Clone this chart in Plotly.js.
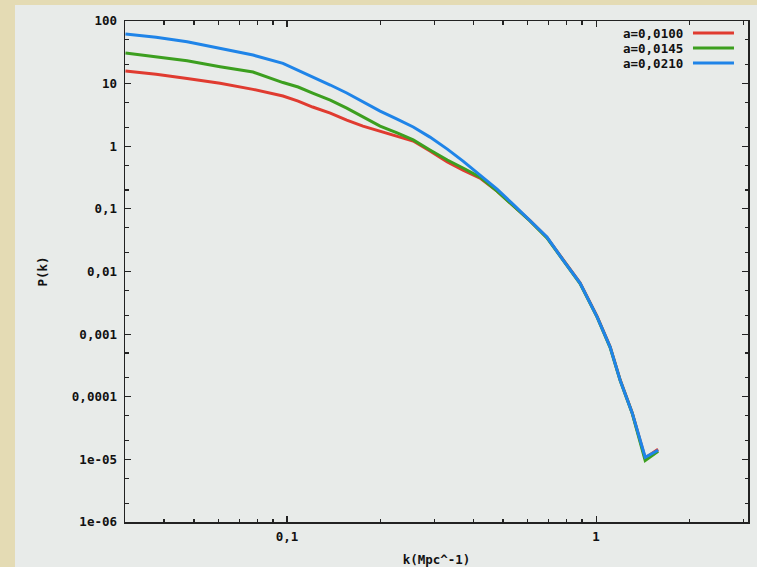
<!DOCTYPE html>
<html>
<head>
<meta charset="utf-8">
<script src="https://cdn.plot.ly/plotly-3.0.1.min.js"></script>
<style>
html,body{margin:0;padding:0;background:#e4dbb4;}
#chart{width:757px;height:567px;}
</style>
</head>
<body>
<div id="chart"></div>
<script>
// wavenumber k (Mpc^-1)
const kValues = [0.030, 0.0377, 0.0475, 0.0607, 0.0776, 0.097, 0.1086, 0.121, 0.138, 0.156, 0.176, 0.200, 0.227, 0.256, 0.290, 0.330, 0.371, 0.421, 0.478, 0.538, 0.611, 0.693, 0.782, 0.887, 1.008, 1.11, 1.196, 1.309, 1.441, 1.587];

// P(k) for each scale factor
const pA0100 = [15.9, 14.1, 12.1, 10.1, 8.1, 6.34, 5.27, 4.23, 3.39, 2.62, 2.10, 1.75, 1.46, 1.21, 0.838, 0.56, 0.417, 0.31, 0.192, 0.115, 0.065, 0.0350, 0.0155, 0.0066, 0.00190, 6.3e-4, 1.86e-4, 5.5e-5, 1.05e-5, 1.45e-5];
const pA0145 = [30.8, 26.6, 23.2, 18.6, 15.3, 10.4, 8.83, 7.08, 5.47, 4.07, 2.93, 2.10, 1.63, 1.26, 0.87, 0.602, 0.449, 0.322, 0.192, 0.115, 0.064, 0.0345, 0.0150, 0.0064, 0.00185, 6.1e-4, 1.82e-4, 5.4e-5, 9.6e-6, 1.35e-5];
const pA0210 = [62.0, 54.9, 46.7, 36.6, 28.6, 21.1, 16.5, 12.7, 9.5, 7.08, 5.08, 3.65, 2.72, 2.03, 1.40, 0.90, 0.580, 0.347, 0.207, 0.119, 0.066, 0.0355, 0.0152, 0.00653, 0.00187, 6.2e-4, 1.84e-4, 5.47e-5, 1.08e-5, 1.40e-5];

const seriesNames = ['a=0,0100', 'a=0,0145', 'a=0,0210'];
const seriesColors = ['#e03b30', '#3c9f1f', '#1f84e8'];
const seriesData = [pA0100, pA0145, pA0210];

// tick labels
const xTickVals = [0.1, 1];
const xTickText = ['0,1', '1'];
const xMinorVals = [0.03,0.04,0.05,0.06,0.07,0.08,0.09,0.2,0.3,0.4,0.5,0.6,0.7,0.8,0.9,2,3];
const yTickVals = [1e-6, 1e-5, 1e-4, 1e-3, 1e-2, 0.1, 1, 10, 100];
const yTickText = ['1e-06', '1e-05', '0,0001', '0,001', '0,01', '0,1', '1', '10', '100'];
const yMinorVals = [];
for (let e = -6; e < 2; e++) { yMinorVals.push(2 * Math.pow(10, e), 5 * Math.pow(10, e)); }

const FONT = {family: 'DejaVu Sans Mono', size: 12.5, color: '#111', weight: 'bold'};

const traces = seriesData.map((p, i) => ({
  type: 'scatter', mode: 'lines', name: seriesNames[i],
  x: kValues, y: p,
  line: {color: seriesColors[i], width: 3},
  showlegend: false
}));

// legend drawn as text-then-line (gnuplot style)
const legY = [0.976, 0.946, 0.916];
const annotations = seriesNames.map((n, i) => ({
  xref: 'paper', yref: 'paper', x: 0.899, y: legY[i],
  xanchor: 'right', yanchor: 'middle', text: n, showarrow: false, font: FONT
}));
const shapes = [
  {type: 'rect', xref: 'paper', yref: 'paper', x0: -0.1766, x1: 1.1, y0: -0.2, y1: 1.032,
   fillcolor: '#e8ebe9', line: {width: 0}, layer: 'below'}
].concat(seriesNames.map((n, i) => ({
  type: 'line', xref: 'paper', yref: 'paper', x0: 0.9117, x1: 0.9775, y0: legY[i], y1: legY[i],
  line: {color: seriesColors[i], width: 3}
})));

const axisCommon = {
  type: 'log', showgrid: false, zeroline: false,
  showline: true, linecolor: '#222', linewidth: 1.5, mirror: 'ticks',
  ticks: 'inside', ticklen: 6, tickwidth: 1.2, tickcolor: '#222',
  tickfont: FONT
};

const layout = {
  width: 757, height: 567,
  margin: {l: 125, r: 9, t: 21, b: 45},
  paper_bgcolor: '#e4dbb4', plot_bgcolor: 'rgba(0,0,0,0)',
  font: FONT,
  xaxis: Object.assign({}, axisCommon, {
    range: [Math.log10(0.0299), Math.log10(3.1)],
    tickmode: 'array', tickvals: xTickVals, ticktext: xTickText,
    ticklabelstandoff: 2,
    minor: {tickmode: 'array', tickvals: xMinorVals, ticks: 'inside', ticklen: 3.5, tickcolor: '#222', tickwidth: 1.2},
    title: {text: 'k(Mpc^-1)', font: FONT, standoff: 12}
  }),
  yaxis: Object.assign({}, axisCommon, {
    range: [-6, 2],
    tickmode: 'array', tickvals: yTickVals, ticktext: yTickText,
    ticklabelstandoff: 4,
    minor: {tickmode: 'array', tickvals: yMinorVals, ticks: 'inside', ticklen: 3.5, tickcolor: '#222', tickwidth: 1.2},
    title: {text: 'P(k)', font: FONT, standoff: 21}
  }),
  annotations: annotations,
  shapes: shapes
};

Plotly.newPlot('chart', traces, layout, {displayModeBar: false, staticPlot: true});
</script>
</body>
</html>
